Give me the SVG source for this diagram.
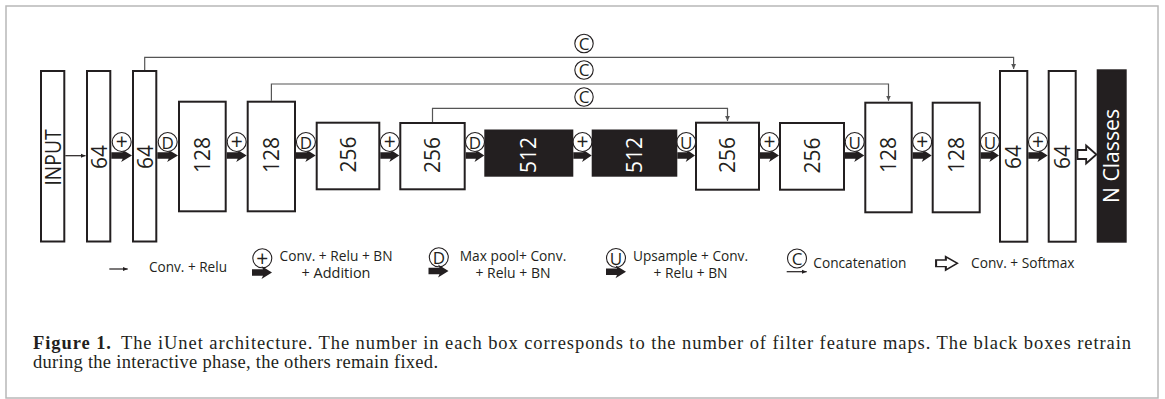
<svg xmlns="http://www.w3.org/2000/svg" width="1165" height="399" viewBox="0 0 1165 399">
  <defs>
    <style>
      .frame{fill:#fff;stroke:#b8b8b8;stroke-width:1.5}
      .box{fill:#fff;stroke:#231f20;stroke-width:2}
      .dark{fill:#231f20;stroke:#231f20;stroke-width:2}
      .lbl{font-family:"Open Sans","Liberation Sans",sans-serif;font-size:21px;fill:#231f20;text-anchor:middle}
      .inv{fill:#fff}
      .skip{fill:none;stroke:#555;stroke-width:1.2}
      .thin{fill:none;stroke:#231f20;stroke-width:1.2}
      .sym circle{fill:#fff;stroke:#231f20;stroke-width:1.1}
      .sym text{font-family:"Open Sans","Liberation Sans",sans-serif;fill:#231f20;text-anchor:middle}
      .plus{font-size:21px}
      .let{font-size:17px}
      .arrow{fill:#231f20}
      .hollow{fill:#fff;stroke:#231f20;stroke-width:1.8;stroke-linejoin:miter}
      .leg{font-family:"Open Sans","Liberation Sans",sans-serif;font-size:14.5px;fill:#231f20}
      .mid{text-anchor:middle}
      .cap{font-family:"Liberation Serif","Times New Roman",serif;font-size:18.5px;fill:#231f20}
    </style>
    <marker id="tip" markerWidth="6" markerHeight="6" refX="5" refY="3" orient="auto" markerUnits="userSpaceOnUse">
      <path d="M0,0.6 L5,3 L0,5.4 Z" fill="#555"/>
    </marker>
    <marker id="tipk" markerWidth="6" markerHeight="6" refX="5" refY="3" orient="auto" markerUnits="userSpaceOnUse">
      <path d="M0,0.8 L5,3 L0,5.2 Z" fill="#231f20"/>
    </marker>
    <!-- thick block arrow, 20 units long, pointing right -->
    <path id="blk" d="M0,-3.3 H11 L9.5,-6.5 L20,0 L9.5,6.5 L11,3.3 H0 Z"/>
    <!-- hollow arrow used for the softmax step -->
    <path id="hol" d="M0.5,-4.5 H9 V-9 L19,0 L9,9 V4.5 H0.5 Z"/>
  </defs>

  <rect class="frame" x="6" y="6" width="1152" height="392"/>

  <!-- skip connections and plain arrows -->
  <g id="connectors">
    <path class="skip" d="M144.7,70 V57.3 H1013.6 V69" marker-end="url(#tip)"/>
    <path class="skip" d="M271.4,100.7 V84 H888.5 V100.7" marker-end="url(#tip)"/>
    <path class="skip" d="M432.5,122 V108.3 H727.5 V121" marker-end="url(#tip)"/>
    <g class="sym">
      <circle cx="584" cy="43.5" r="9.2"/><text class="let" x="584" y="49.8">C</text>
      <circle cx="584" cy="70" r="9.2"/><text class="let" x="584" y="76.3">C</text>
      <circle cx="584" cy="97" r="9.2"/><text class="let" x="584" y="103.3">C</text>
    </g>

    <line class="thin" x1="65.3" y1="155.7" x2="85.5" y2="155.7" marker-end="url(#tipk)"/>

    <g class="arrow">
      <use href="#blk" transform="translate(111.3,155.5) scale(1.035,1)"/>
      <use href="#blk" transform="translate(157.3,155.5) scale(1.035,1)"/>
      <use href="#blk" transform="translate(226.7,155.5) scale(1,1)"/>
      <use href="#blk" transform="translate(296,155.5) scale(0.985,1)"/>
      <use href="#blk" transform="translate(380.3,155.5) scale(0.95,1)"/>
      <use href="#blk" transform="translate(465.7,155.5) scale(0.93,1)"/>
      <use href="#blk" transform="translate(573.3,155.5) scale(0.92,1)"/>
      <use href="#blk" transform="translate(677.3,155.5) scale(0.885,1)"/>
      <use href="#blk" transform="translate(760,155.5) scale(0.95,1)"/>
      <use href="#blk" transform="translate(845,155.5) scale(0.965,1)"/>
      <use href="#blk" transform="translate(912.7,155.5) scale(0.95,1)"/>
      <use href="#blk" transform="translate(980.7,155.5) scale(0.915,1)"/>
      <use href="#blk" transform="translate(1028.3,155.5) scale(0.97,1)"/>
    </g>
    <use class="hollow" href="#hol" transform="translate(1077,154.5) scale(1.02,1)"/>

    <g class="sym">
      <circle cx="121.7" cy="142" r="9.5"/><text class="plus" x="121.7" y="149.3">+</text>
      <circle cx="167.7" cy="142" r="9.5"/><text class="let" x="167.7" y="148.6">D</text>
      <circle cx="236.7" cy="142" r="9.5"/><text class="plus" x="236.7" y="149.3">+</text>
      <circle cx="305.9" cy="142" r="9.5"/><text class="let" x="305.9" y="148.6">D</text>
      <circle cx="389.8" cy="142" r="9.5"/><text class="plus" x="389.8" y="149.3">+</text>
      <circle cx="475" cy="142" r="9.5"/><text class="let" x="475" y="148.6">D</text>
      <circle cx="582.5" cy="142" r="9.5"/><text class="plus" x="582.5" y="149.3">+</text>
      <circle cx="686.2" cy="142" r="9.5"/><text class="let" x="686.2" y="148.6">U</text>
      <circle cx="769.5" cy="142" r="9.5"/><text class="plus" x="769.5" y="149.3">+</text>
      <circle cx="854.7" cy="142" r="9.5"/><text class="let" x="854.7" y="148.6">U</text>
      <circle cx="922.2" cy="142" r="9.5"/><text class="plus" x="922.2" y="149.3">+</text>
      <circle cx="989.9" cy="142" r="9.5"/><text class="let" x="989.9" y="148.6">U</text>
      <circle cx="1038" cy="142" r="9.5"/><text class="plus" x="1038" y="149.3">+</text>
    </g>
  </g>

  <!-- encoder -->
  <g id="input">
    <rect class="box" x="41" y="71" width="23.3" height="170.5"/>
    <text class="lbl" transform="translate(53,157.5) rotate(-90)" y="7.5" textLength="56" lengthAdjust="spacingAndGlyphs">INPUT</text>
  </g>
  <g id="enc64a">
    <rect class="box" x="87" y="71" width="23.3" height="170.5"/>
    <text class="lbl" transform="translate(99.5,157) rotate(-90)" y="7.5">64</text>
  </g>
  <g id="enc64b">
    <rect class="box" x="133" y="71" width="23.3" height="170.5"/>
    <text class="lbl" transform="translate(145.5,157) rotate(-90)" y="7.5">64</text>
  </g>
  <g id="enc128a">
    <rect class="box" x="179" y="101.7" width="46.7" height="109.6"/>
    <text class="lbl" transform="translate(202.4,155) rotate(-90)" y="7.5">128</text>
  </g>
  <g id="enc128b">
    <rect class="box" x="247.7" y="101.7" width="47.3" height="109.6"/>
    <text class="lbl" transform="translate(271.4,155) rotate(-90)" y="7.5">128</text>
  </g>
  <g id="enc256a">
    <rect class="box" x="316.7" y="122.7" width="62.6" height="66.6"/>
    <text class="lbl" transform="translate(348,154.5) rotate(-90)" y="7.5">256</text>
  </g>
  <g id="enc256b">
    <rect class="box" x="400.3" y="123" width="64.4" height="66.3"/>
    <text class="lbl" transform="translate(432.5,155) rotate(-90)" y="7.5">256</text>
  </g>

  <!-- bottleneck (retrained) -->
  <g id="mid512a">
    <rect class="dark" x="485.3" y="130.5" width="87" height="45.2"/>
    <text class="lbl inv" transform="translate(528.8,155) rotate(-90)" y="7.5">512</text>
  </g>
  <g id="mid512b">
    <rect class="dark" x="592.7" y="130.5" width="83.6" height="45.2"/>
    <text class="lbl inv" transform="translate(634.5,155) rotate(-90)" y="7.5">512</text>
  </g>

  <!-- decoder -->
  <g id="dec256a">
    <rect class="box" x="696" y="122.7" width="63" height="67"/>
    <text class="lbl" transform="translate(727.5,155) rotate(-90)" y="7.5">256</text>
  </g>
  <g id="dec256b">
    <rect class="box" x="780" y="123" width="64" height="66.7"/>
    <text class="lbl" transform="translate(812,155.5) rotate(-90)" y="7.5">256</text>
  </g>
  <g id="dec128a">
    <rect class="box" x="865.3" y="102.7" width="46.4" height="109.6"/>
    <text class="lbl" transform="translate(888.5,155) rotate(-90)" y="7.5">128</text>
  </g>
  <g id="dec128b">
    <rect class="box" x="932.7" y="102.7" width="47" height="109.6"/>
    <text class="lbl" transform="translate(956.2,155) rotate(-90)" y="7.5">128</text>
  </g>
  <g id="dec64a">
    <rect class="box" x="1000" y="71" width="27.3" height="170.7"/>
    <text class="lbl" transform="translate(1013.6,157) rotate(-90)" y="7.5">64</text>
  </g>
  <g id="dec64b">
    <rect class="box" x="1048.7" y="71" width="27" height="170.7"/>
    <text class="lbl" transform="translate(1062.2,157) rotate(-90)" y="7.5">64</text>
  </g>
  <g id="output">
    <rect class="dark" x="1097.7" y="70.3" width="28" height="171.4"/>
    <text class="lbl inv" transform="translate(1111.7,156) rotate(-90)" y="7.5" textLength="94" lengthAdjust="spacingAndGlyphs">N Classes</text>
  </g>

  <!-- legend -->
  <g id="legend">
    <line class="thin" x1="109.3" y1="269" x2="127.7" y2="269" marker-end="url(#tipk)"/>
    <text class="leg" x="149" y="272.3" textLength="78" lengthAdjust="spacingAndGlyphs">Conv. + Relu</text>

    <g class="sym"><circle cx="262.3" cy="258.3" r="9.5"/><text class="plus" x="262.3" y="265.6">+</text></g>
    <use class="arrow" href="#blk" transform="translate(252,272.5)"/>
    <text class="leg mid" x="336" y="261" textLength="113" lengthAdjust="spacingAndGlyphs">Conv. + Relu + BN</text>
    <text class="leg mid" x="336" y="278.3" textLength="69" lengthAdjust="spacingAndGlyphs">+ Addition</text>

    <g class="sym"><circle cx="438.8" cy="257.3" r="9.5"/><text class="let" x="438.8" y="263.9">D</text></g>
    <use class="arrow" href="#blk" transform="translate(428.5,271)"/>
    <text class="leg mid" x="513" y="261" textLength="106.5" lengthAdjust="spacingAndGlyphs">Max pool+ Conv.</text>
    <text class="leg mid" x="513" y="278.3" textLength="75" lengthAdjust="spacingAndGlyphs">+ Relu + BN</text>

    <g class="sym"><circle cx="616" cy="258" r="9.5"/><text class="let" x="616" y="264.6">U</text></g>
    <use class="arrow" href="#blk" transform="translate(606,271.7)"/>
    <text class="leg mid" x="690.5" y="261" textLength="115" lengthAdjust="spacingAndGlyphs">Upsample + Conv.</text>
    <text class="leg mid" x="690.5" y="278.3" textLength="74" lengthAdjust="spacingAndGlyphs">+ Relu + BN</text>

    <g class="sym"><circle cx="797" cy="258.5" r="9.5"/><text class="let" x="797" y="265.1">C</text></g>
    <line class="thin" x1="786.7" y1="271.7" x2="806.7" y2="271.7" marker-end="url(#tipk)"/>
    <text class="leg" x="813.3" y="268" textLength="93" lengthAdjust="spacingAndGlyphs">Concatenation</text>

    <use class="hollow" href="#hol" transform="translate(935.5,263.3) scale(1.15,0.74)"/>
    <text class="leg" x="971" y="267.7" textLength="103.5" lengthAdjust="spacingAndGlyphs">Conv. + Softmax</text>
  </g>

  <!-- caption -->
  <text class="cap" x="33" y="349" textLength="1098"><tspan font-weight="bold">Figure 1.</tspan><tspan dx="9">The iUnet architecture. The number in each box corresponds to the number of filter feature maps. The black boxes retrain</tspan></text>
  <text class="cap" x="33" y="368" textLength="405">during the interactive phase, the others remain fixed.</text>
</svg>
